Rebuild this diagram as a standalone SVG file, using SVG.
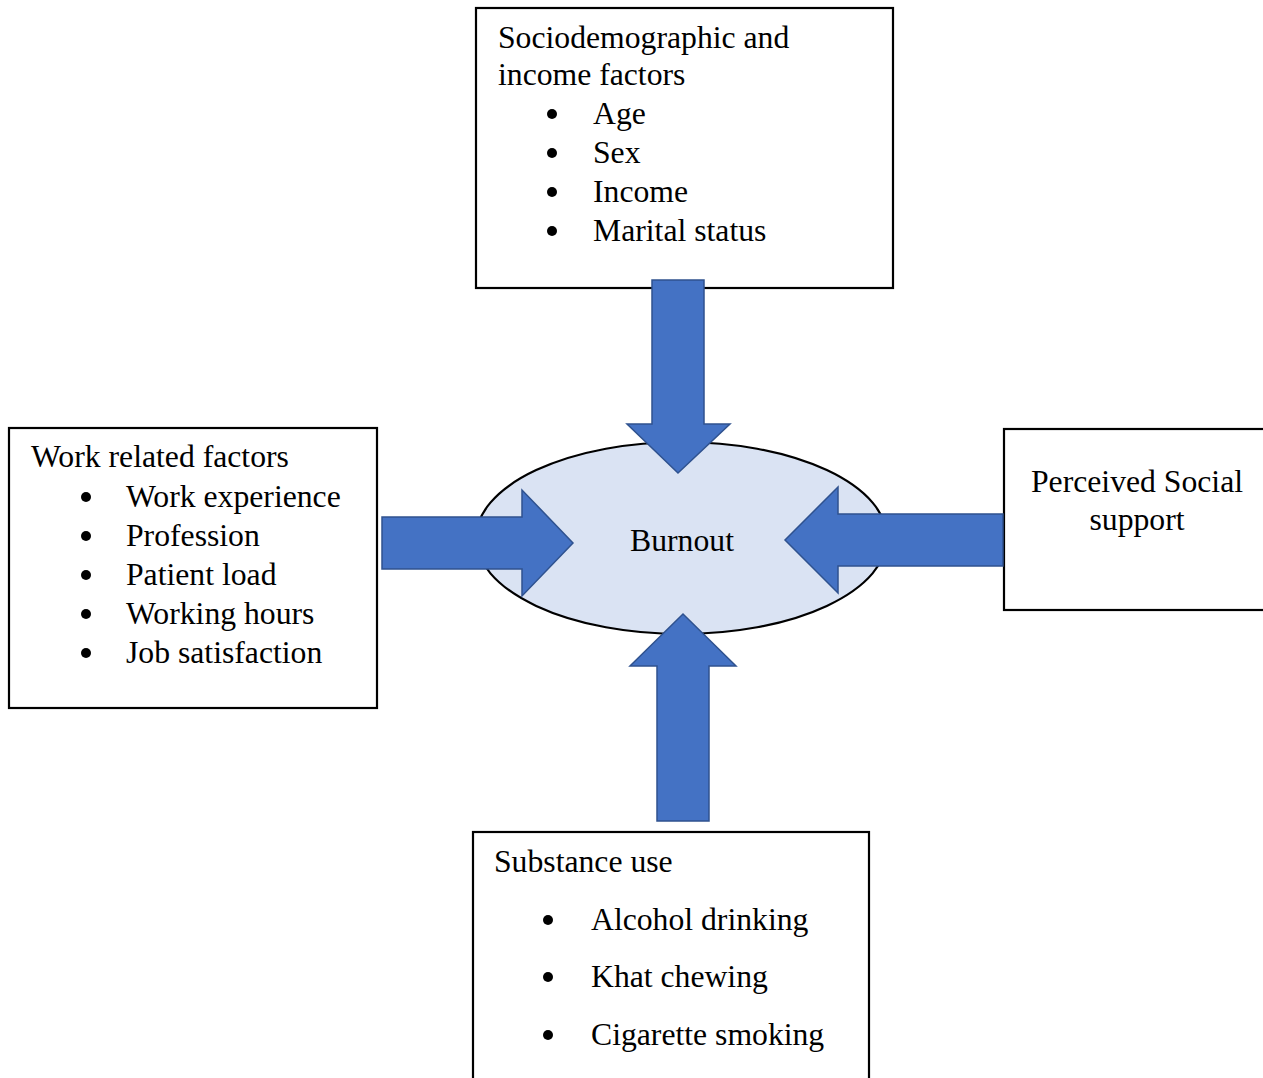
<svg xmlns="http://www.w3.org/2000/svg" width="1263" height="1078" viewBox="0 0 1263 1078">
  <style>
    .box { fill: #ffffff; stroke: #000000; stroke-width: 2.2; }
    .txt { font-family: "Liberation Serif", "Times New Roman", serif; font-size: 31.7px; fill: #000000; }
    .mid { text-anchor: middle; }
    .dot { fill: #000000; }
    .arrow { fill: #4472C4; stroke: #2F528F; stroke-width: 1.5; stroke-linejoin: miter; }
    .core { fill: #DAE3F3; stroke: #000000; stroke-width: 2.2; }
  </style>
  <rect width="1263" height="1078" fill="#ffffff"/>

  <!-- Central outcome -->
  <g id="burnout">
    <ellipse class="core" cx="681.5" cy="538" rx="205.5" ry="96"/>
    <text class="txt mid" x="682" y="551">Burnout</text>
  </g>

  <!-- Sociodemographic factors -->
  <g id="sociodemographic">
    <rect class="box" x="476" y="8" width="417" height="280"/>
    <text class="txt" x="498" y="48">Sociodemographic and</text>
    <text class="txt" x="498" y="85">income factors</text>
    <circle class="dot" cx="552" cy="114" r="5"/>
    <text class="txt" x="593" y="124">Age</text>
    <circle class="dot" cx="552" cy="153" r="5"/>
    <text class="txt" x="593" y="163">Sex</text>
    <circle class="dot" cx="552" cy="192" r="5"/>
    <text class="txt" x="593" y="202">Income</text>
    <circle class="dot" cx="552" cy="231" r="5"/>
    <text class="txt" x="593" y="241">Marital status</text>
  </g>

  <!-- Work related factors -->
  <g id="work">
    <rect class="box" x="9" y="428" width="368" height="280"/>
    <text class="txt" x="31" y="467">Work related factors</text>
    <circle class="dot" cx="86" cy="497" r="5"/>
    <text class="txt" x="126" y="507">Work experience</text>
    <circle class="dot" cx="86" cy="536" r="5"/>
    <text class="txt" x="126" y="546">Profession</text>
    <circle class="dot" cx="86" cy="575" r="5"/>
    <text class="txt" x="126" y="585">Patient load</text>
    <circle class="dot" cx="86" cy="614" r="5"/>
    <text class="txt" x="126" y="624">Working hours</text>
    <circle class="dot" cx="86" cy="653" r="5"/>
    <text class="txt" x="126" y="663">Job satisfaction</text>
  </g>

  <!-- Perceived social support -->
  <g id="social-support">
    <rect class="box" x="1004" y="429" width="270" height="181"/>
    <text class="txt mid" x="1137" y="492">Perceived Social</text>
    <text class="txt mid" x="1137" y="530">support</text>
  </g>

  <!-- Substance use -->
  <g id="substance">
    <rect class="box" x="473" y="832" width="396" height="260"/>
    <text class="txt" x="494" y="872">Substance use</text>
    <circle class="dot" cx="548" cy="920" r="5"/>
    <text class="txt" x="591" y="930">Alcohol drinking</text>
    <circle class="dot" cx="548" cy="977" r="5"/>
    <text class="txt" x="591" y="987">Khat chewing</text>
    <circle class="dot" cx="548" cy="1035" r="5"/>
    <text class="txt" x="591" y="1045">Cigarette smoking</text>
  </g>

  <!-- Block arrows pointing into the centre -->
  <g id="connectors">
    <polygon class="arrow" points="652,280 704,280 704,424 730,424 678,473 627,424 652,424"/>
    <polygon class="arrow" points="382,517 522,517 522,490 573,543 522,596 522,569 382,569"/>
    <polygon class="arrow" points="1003,514 838,514 838,487 785,540 838,593 838,566 1003,566"/>
    <polygon class="arrow" points="657,821 657,666 630,666 683,614 736,666 709,666 709,821"/>
  </g>
</svg>
